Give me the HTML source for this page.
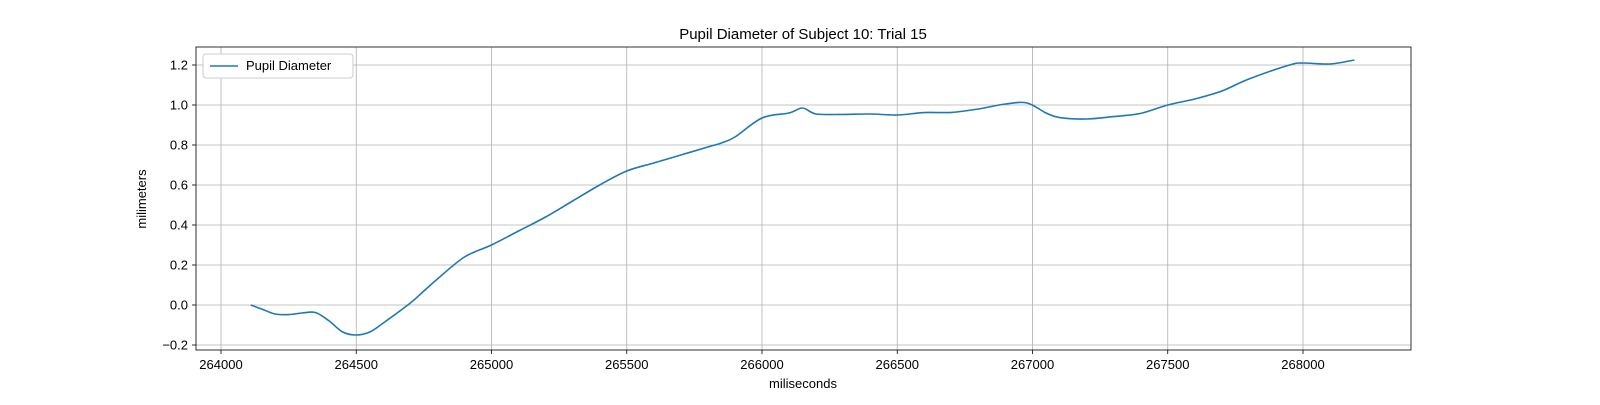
<!DOCTYPE html>
<html><head><meta charset="utf-8"><style>
body{margin:0;background:#fff;font-family:"Liberation Sans",sans-serif}
svg text{font-family:"Liberation Sans","DejaVu Sans",sans-serif;fill:#000}
</style></head><body>
<svg id="chart" width="1600" height="400" xmlns="http://www.w3.org/2000/svg">
<rect width="1600" height="400" fill="#fff"/>
<g id="grid"></g>
<g id="axes"></g>
<path id="line" fill="none" stroke="#1f77b4" stroke-width="1.6"/>
<rect x="196" y="47" width="1215" height="303" fill="none" stroke="#000" stroke-width="0.8"/>
<text x="803" y="39" font-size="15" text-anchor="middle">Pupil Diameter of Subject 10: Trial 15</text>
<text x="803" y="388" font-size="13" text-anchor="middle">miliseconds</text>
<text x="146" y="199" font-size="13" text-anchor="middle" transform="rotate(-90 146 199)">milimeters</text>
<g>
<rect x="203" y="54" width="150" height="24" rx="3" fill="#fff" stroke="#ccc"/>
<line x1="210" y1="66" x2="238" y2="66" stroke="#1f77b4" stroke-width="1.6"/>
<text x="246" y="70" font-size="13">Pupil Diameter</text>
</g>
</svg>
<script>
const xs=[264110,264150,264200,264250,264300,264350,264400,264450,264500,264550,264600,264700,264750,264800,264900,265000,265100,265200,265300,265400,265500,265600,265700,265800,265850,265900,266000,266100,266150,266200,266300,266400,266500,266600,266700,266800,266900,266980,267050,267100,267200,267300,267400,267500,267600,267700,267800,267950,268000,268100,268190];
const ys=[0.0,-0.02,-0.045,-0.048,-0.04,-0.038,-0.08,-0.135,-0.15,-0.135,-0.09,0.01,0.07,0.13,0.24,0.3,0.37,0.44,0.52,0.6,0.67,0.71,0.75,0.79,0.81,0.84,0.935,0.96,0.985,0.955,0.953,0.955,0.95,0.962,0.963,0.98,1.005,1.01,0.96,0.937,0.93,0.942,0.958,1.0,1.03,1.07,1.13,1.2,1.21,1.205,1.225];
const xTicks=[264000,264500,265000,265500,266000,266500,267000,267500,268000];
const yTicks=[-0.2,0.0,0.2,0.4,0.6,0.8,1.0,1.2];
const X=v=>221+(v-264000)/500*135.25;
const Y=v=>305-v/0.2*40;
const ns="http://www.w3.org/2000/svg";
const grid=document.getElementById('grid'),axes=document.getElementById('axes');
function mk(t,a,p){const e=document.createElementNS(ns,t);for(const k in a)e.setAttribute(k,a[k]);p.appendChild(e);return e;}
xTicks.forEach(t=>{const x=X(t);
const g=mk('line',{x1:x,x2:x,y1:47,y2:350,stroke:'#b0b0b0','stroke-width':0.8},grid);


mk('line',{x1:x,x2:x,y1:350,y2:354,stroke:'#000','stroke-width':0.8},axes);
const l=mk('text',{x:x,y:369,'font-size':13,'text-anchor':'middle'},axes);l.textContent=t;

});
yTicks.forEach(t=>{const y=Y(t);
const g=mk('line',{x1:196,x2:1411,y1:y,y2:y,stroke:'#b0b0b0','stroke-width':0.8},grid);


mk('line',{x1:192,x2:196,y1:y,y2:y,stroke:'#000','stroke-width':0.8},axes);
const l=mk('text',{x:188,y:y+4.5,'font-size':13,'text-anchor':'end'},axes);l.textContent=(t<0?'\u2212':'')+Math.abs(t).toFixed(1);

});
const P=xs.map((v,i)=>[X(v),Y(ys[i])]);
let d='M'+P[0][0]+','+P[0][1];
for(let i=0;i<P.length-1;i++){const p0=P[Math.max(0,i-1)],p1=P[i],p2=P[i+1],p3=P[Math.min(P.length-1,i+2)];
d+=` C${p1[0]+(p2[0]-p0[0])/6},${p1[1]+(p2[1]-p0[1])/6} ${p2[0]-(p3[0]-p1[0])/6},${p2[1]-(p3[1]-p1[1])/6} ${p2[0]},${p2[1]}`;}
document.getElementById('line').setAttribute('d',d);
</script>
</body></html>
